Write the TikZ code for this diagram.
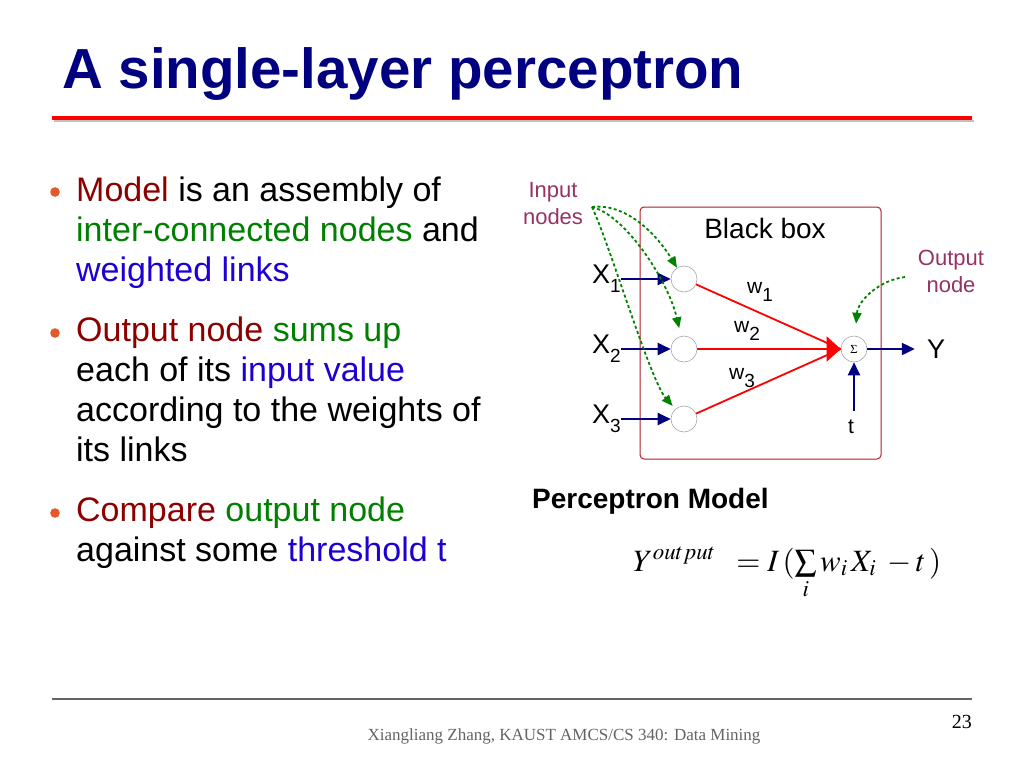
\documentclass[tikz,border=0pt]{standalone}
\usepackage{mathptmx}
\usepackage{fontspec}
\setmainfont{Liberation Sans}
\newfontfamily\timesfont{Liberation Serif}
\usetikzlibrary{arrows.meta,positioning}

\definecolor{titlenavy}{RGB}{0,0,128}
\definecolor{deepred}{RGB}{140,0,0}
\definecolor{leafgreen}{RGB}{0,128,0}
\definecolor{linkblue}{RGB}{30,0,210}
\definecolor{dotorange}{RGB}{226,90,40}
\definecolor{boxred}{RGB}{176,30,40}
\definecolor{notepurple}{RGB}{150,50,100}
\definecolor{arrownavy}{RGB}{0,0,128}
\definecolor{hintgreen}{RGB}{0,130,0}
\definecolor{footgray}{RGB}{100,100,100}

\newcommand\lowidx[1]{\raisebox{-0.35em}{\fontsize{19}{19}\selectfont #1}}

\tikzset{
	innode/.style={circle, draw=black!35, line width=0.6pt, minimum size=26pt, inner sep=0pt, fill=white},
	feed/.style={draw=arrownavy, line width=2.2pt, -{Triangle[length=13pt,width=12pt]}},
	wire/.style={draw=red, line width=1.8pt},
	hint/.style={draw=hintgreen, line width=1.8pt, dash pattern=on 3pt off 2.5pt, -{Triangle[length=11pt,width=9pt]}},
	note/.style={text=notepurple, font=\fontsize{22}{27}\selectfont, align=center, inner sep=0pt},
	xlab/.style={font=\fontsize{27}{28}\selectfont, inner sep=0pt},
	wlab/.style={font=\fontsize{21}{22}\selectfont, inner sep=0pt},
	bullet/.style={font=\fontsize{34}{40}\selectfont, align=left, inner sep=0pt, anchor=north west},
}

\begin{document}
\begin{tikzpicture}[x=1pt, y=-1pt]
			%%%%% START %%%%%
			
			\fill[white] (0,0) rectangle (1024,768);
			\useasboundingbox (0,0) rectangle (1024,768);
			
			\node[anchor=base west, inner sep=0pt, text=titlenavy, font=\fontsize{56.5}{60}\selectfont\bfseries] (title) at (62,88) {A single-layer perceptron};
			\draw[black!25, line width=2pt] (54,121) -- (974,121);
			\draw[red, line width=4pt] (52,118) -- (972,118);
			
			\fill[dotorange] (55,192) circle (4.8);
			\fill[dotorange] (55,333) circle (4.8);
			\fill[dotorange] (55,513) circle (4.8);
			
			\node[bullet] (b1) at (76,177) {\textcolor{deepred}{Model} is an assembly of\\\textcolor{leafgreen}{inter-connected nodes} and\\\textcolor{linkblue}{weighted links}};
			\node[bullet] (b2) at (76,317) {\textcolor{deepred}{Output node} \textcolor{leafgreen}{sums up}\\each of its \textcolor{linkblue}{input value}\\according to the weights of\\its links};
			\node[bullet] (b3) at (76,497) {\textcolor{deepred}{Compare} \textcolor{leafgreen}{output node}\\against some \textcolor{linkblue}{threshold t}};
			
			\draw[boxred, line width=1pt, rounded corners=4pt] (640,207) rectangle (881,459);
			\node[font=\fontsize{28}{30}\selectfont] (bbox) at (765,228) {Black box};
			
			\node[innode] (in1) at (684,279) {};
			\node[innode] (in2) at (684,349) {};
			\node[innode] (in3) at (684,419) {};
			\node[innode] (sum) at (854,349) {\fontsize{12}{12}\selectfont$\Sigma$};
			
			\node[xlab, anchor=base west] (xa) at (592,283) {X\lowidx{1}};
			\node[xlab, anchor=base west] (xb) at (592,353) {X\lowidx{2}};
			\node[xlab, anchor=base west] (xc) at (592,423) {X\lowidx{3}};
			
			\draw[feed] (xa.east |- in1) -- (in1);
			\draw[feed] (xb.east |- in2) -- (in2);
			\draw[feed] (xc.east |- in3) -- (in3);
			
			\draw[wire] (in1) -- (sum.west);
			\draw[wire] (in3) -- (sum.west);
			\draw[wire, -{Triangle[length=14pt,width=25pt]}] (in2) -- (sum);
			
			\node[wlab] (wa) at (760,292) {w\lowidx{1}};
			\node[wlab] (wb) at (747,331) {w\lowidx{2}};
			\node[wlab] (wc) at (742,378) {w\lowidx{3}};
			
			\node[xlab] (yout) at (936,349) {Y};
			\node[wlab] (thr) at (851,427) {t};
			\draw[feed, shorten >=12pt] (sum) -- (yout);
			\draw[feed, shorten <=9pt] (sum |- thr.north) -- (sum);
			
			\node[note] (innote) at (553,204) {Input\\nodes};
			\node[note] (outnote) at (951,271) {Output\\node};
			\coordinate (fan) at (592,207);
			\coordinate (outtail) at (905,277);
			
			\draw[hint] (fan) .. controls (625,203) and (655,232) .. (in1);
			\draw[hint, shorten >=8pt] (fan) .. controls (625,215) and (668,280) .. (in2);
			\draw[hint, shorten >=4pt] (fan) .. controls (610,245) and (650,380) .. (in3);
			\draw[hint, shorten >=12pt] (outtail) .. controls (880,280) and (858,300) .. (sum);
			
			\node[anchor=base west, inner sep=0pt, font=\fontsize{28}{30}\selectfont\bfseries] (ptitle) at (532,508) {Perceptron Model};
			\node[anchor=base west, inner sep=0pt, font=\fontsize{31}{34}\selectfont] (rule) at (633,571) {$Y^{output}\;\; = I\,(\sum\limits_i w_i\, X_i\; - t\,)$};
			
			\draw[footgray, line width=1.5pt] (52,699) -- (972,699);
			\node[anchor=base, inner sep=0pt, text=footgray, font=\timesfont\fontsize{17}{20}\selectfont] (foot) at (564,740) {Xiangliang Zhang, KAUST AMCS/CS 340: Data Mining};
			\node[anchor=base east, inner sep=0pt, font=\timesfont\fontsize{20}{22}\selectfont] (page) at (972,728) {23};
			
			%%%%% END %%%%%
		\end{tikzpicture}
\end{document}
